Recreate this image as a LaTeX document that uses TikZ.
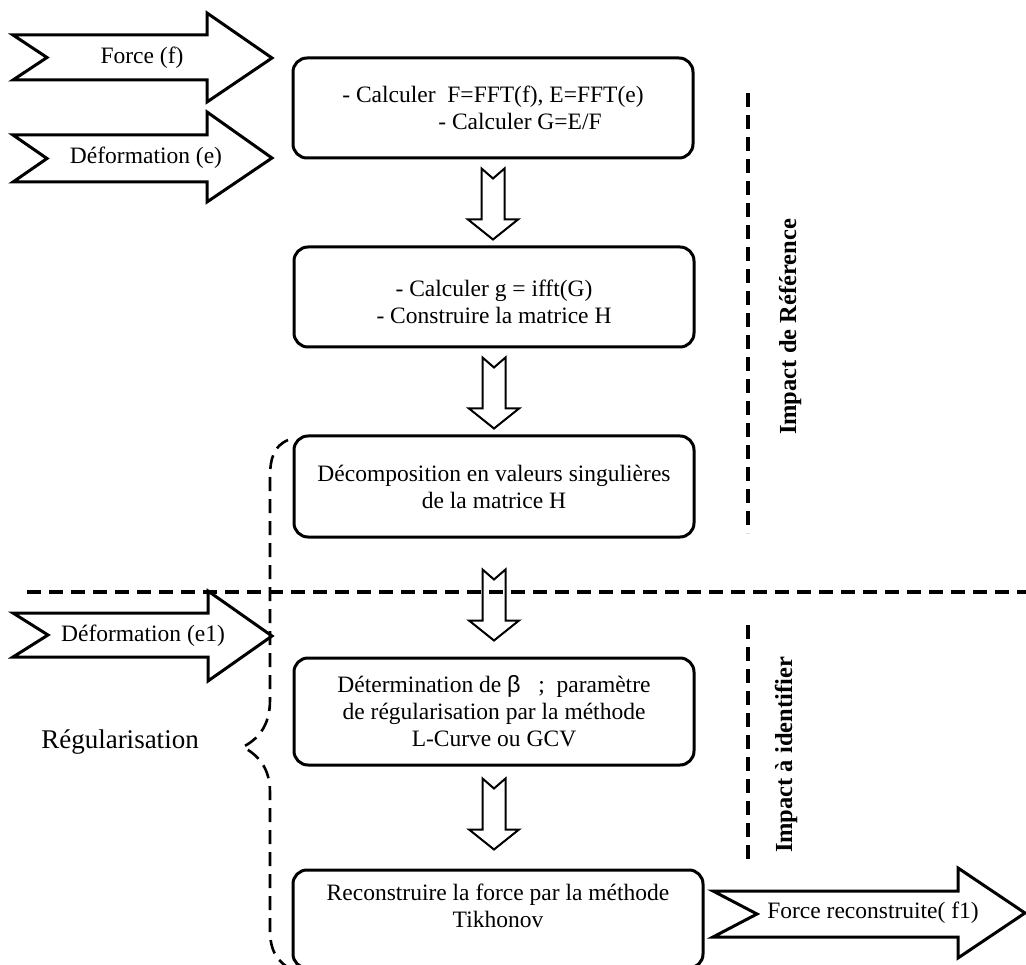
\documentclass[tikz,border=0pt]{standalone}
\usepackage{fontspec}
\setmainfont{Liberation Serif}
\newfontfamily\betafont{Liberation Sans}
\usetikzlibrary{calc}
\tikzset{
  etape/.style={draw,rounded corners=14pt,line width=3pt,minimum width=400pt,minimum height=100pt,align=center,inner sep=0pt,font=\fontsize{23.5}{27}\selectfont},
  fleche/.style={draw,line width=3pt,fill=white},
  descente/.pic={\draw[line width=2pt,fill=white] (-11.5,0) -- (0,10) -- (11.5,0) -- (11.5,51) -- (25,51) -- (0,71) -- (-25,51) -- (-11.5,51) -- cycle;},
  txt/.style={font=\fontsize{23.5}{27}\selectfont,inner sep=0pt},
  sep/.style={line width=3.2pt,dash pattern=on 14pt off 8pt},
  phase/.style={rotate=90,inner sep=0pt,font=\fontsize{24.5}{28}\selectfont\bfseries},
}

\begin{document}
\begin{tikzpicture}[x=1pt,y=-1pt]
  \useasboundingbox (0,0) rectangle (1026,965);
  \clip (0,0) rectangle (1026,965);

  % entrees
  \draw[fleche] (13,35) -- (207,35) -- (207,13) -- (272,58) -- (207,102) -- (207,80) -- (13,80) -- (47,57.5) -- cycle;
  \node[txt] (force) at (142,58) {Force (f)};
  \draw[fleche] (13,135) -- (207,135) -- (207,112) -- (272,158) -- (207,202) -- (207,182) -- (13,182) -- (47,158.5) -- cycle;
  \node[txt] (deform) at (146,158) {Déformation (e)};
  \draw[fleche] (13,613) -- (208,613) -- (208,591) -- (272,636) -- (208,681) -- (208,657) -- (13,657) -- (48,635) -- cycle;
  \node[txt] (deform1) at (143,636) {Déformation (e1)};

  % etapes
  \node[etape] (fft)  at (493,108)   {- Calculer\ \ F=FFT(f), E=FFT(e)\\\hspace*{54pt}- Calculer G=E/F};
  \node[etape] (ifft) at (494,297)   {~\\- Calculer g = ifft(G)\\- Construire la matrice H};
  \node[etape,minimum height=101pt] (svd)  at (494,486.5) {Décomposition en valeurs singulières\\de la matrice H};
  \node[etape,minimum height=107pt] (beta) at (494,711.5) {Détermination de {\betafont β}\ \ \ ;\ \ paramètre\\de régularisation par la méthode\\L-Curve ou GCV};
  \node[etape,minimum width=410pt,minimum height=98pt] (tikh) at (498,919) {Reconstruire la force par la méthode\\Tikhonov\\~};

  \pic at ($(fft.south)+(0,9)$)   {descente};
  \pic at ($(ifft.south)+(0,9)$)  {descente};
  \pic at ($(svd.south)+(0,31)$)  {descente};
  \pic at ($(beta.south)+(0,12)$) {descente};

  % sortie
  \draw[fleche] (713,891) -- (958,891) -- (958,868) -- (1025,913) -- (958,958) -- (958,937) -- (713,937) -- (757,914) -- cycle;
  \node[txt] (fout) at (873,913) {Force reconstruite( f1)};

  % phases
  \draw[sep] (27,592) -- (1026,592);
  \draw[sep] (748,93) -- (748,533);
  \draw[sep] (748,625) -- (748,862);
  \node[phase] (ref)   at (790,327) {Impact de Référence};
  \node[phase] (ident) at (786,755) {Impact à identifier};

  % regularisation
  \node[font=\fontsize{27}{32}\selectfont,inner sep=0pt] (regul) at (120,742) {Régularisation};
  \draw[sep,line width=2.6pt] (288,440) .. controls (274,446) and (270,458) .. (270,478)
    -- (270,700) .. controls (270,728) and (256,740) .. (243,747)
    .. controls (256,754) and (270,766) .. (270,792)
    -- (270,930) .. controls (270,952) and (278,962) .. (292,970);
\end{tikzpicture}
\end{document}
